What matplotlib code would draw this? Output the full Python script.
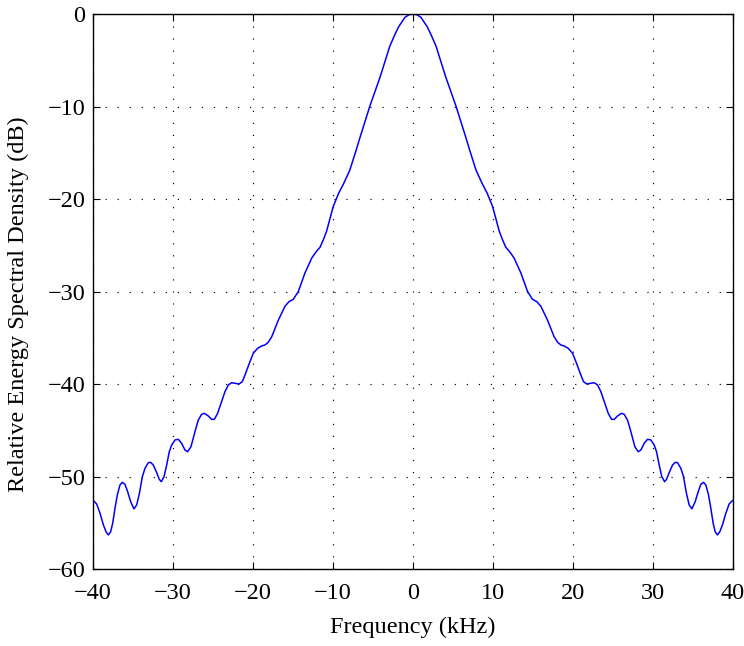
import matplotlib
matplotlib.use("Agg")
import matplotlib.pyplot as plt

# Frequency (kHz) and relative energy spectral density (dB)
freq_khz = [
    -39.96, -39.54, -39.12, -38.7, -38.37, -38.08, -37.79, -37.54, -37.25, -36.96,
    -36.63, -36.33, -36.0, -35.67, -35.29, -34.88, -34.54, -34.2, -33.83, -33.5,
    -33.08, -32.79, -32.46, -32.04, -31.71, -31.46, -31.12, -30.79, -30.46, -30.17,
    -29.75, -29.33, -28.92, -28.5, -28.17, -27.75, -27.25, -26.83, -26.42, -26.08,
    -25.58, -25.17, -24.83, -24.42, -24.0, -23.5, -23.08, -22.67, -22.17, -21.75,
    -21.33, -20.92, -20.38, -19.96, -19.42, -18.92, -18.5, -18.1, -17.66, -16.83,
    -16.0, -15.5, -14.96, -14.33, -13.5, -12.66, -12.1, -11.6, -11.2, -10.8,
    -9.96, -9.3, -8.7, -7.9, -7.2, -6.6, -5.4, -4.1, -2.9, -2.3,
    -1.8, -1.0, -0.5, 0.0,
    0.5, 1.0, 1.8, 2.3, 2.9, 4.1, 5.4, 6.6, 7.2, 7.9,
    8.7, 9.3, 9.96, 10.8, 11.2, 11.6, 12.1, 12.66, 13.5, 14.33,
    14.96, 15.5, 16.0, 16.83, 17.66, 18.1, 18.5, 18.92, 19.42, 19.96,
    20.38, 20.92, 21.33, 21.75, 22.17, 22.67, 23.08, 23.5, 24.0, 24.42,
    24.83, 25.17, 25.58, 26.08, 26.42, 26.83, 27.25, 27.75, 28.17, 28.5,
    28.92, 29.33, 29.75, 30.17, 30.46, 30.79, 31.12, 31.46, 31.71, 32.04,
    32.46, 32.79, 33.08, 33.5, 33.83, 34.2, 34.54, 34.88, 35.29, 35.67,
    36.0, 36.33, 36.63, 36.96, 37.25, 37.54, 37.79, 38.08, 38.37, 38.7,
    39.12, 39.54, 39.96,
]
esd_db = [
    -52.6, -52.97, -53.98, -55.24, -55.97, -56.32, -55.97, -55.06, -53.44, -52.0,
    -50.92, -50.63, -50.85, -51.64, -52.72, -53.5, -53.08, -51.82, -50.02, -49.12,
    -48.5, -48.47, -48.76, -49.58, -50.31, -50.56, -50.02, -48.76, -47.32, -46.6,
    -46.05, -45.98, -46.41, -47.14, -47.32, -46.78, -45.15, -43.89, -43.28, -43.17,
    -43.46, -43.82, -43.82, -43.17, -42.09, -40.83, -40.1, -39.86, -39.93, -40.0,
    -39.75, -38.85, -37.59, -36.68, -36.14, -35.89, -35.78, -35.5, -34.9, -33.1,
    -31.6, -31.1, -30.85, -30.0, -28.0, -26.4, -25.7, -25.2, -24.4, -23.5,
    -20.8, -19.4, -18.4, -16.9, -15.0, -13.3, -10.0, -6.8, -3.5, -2.3,
    -1.4, -0.36, -0.08, 0.0,
    -0.08, -0.36, -1.4, -2.3, -3.5, -6.8, -10.0, -13.3, -15.0, -16.9,
    -18.4, -19.4, -20.8, -23.5, -24.4, -25.2, -25.7, -26.4, -28.0, -30.0,
    -30.85, -31.1, -31.6, -33.1, -34.9, -35.5, -35.78, -35.89, -36.14, -36.68,
    -37.59, -38.85, -39.75, -40.0, -39.93, -39.86, -40.1, -40.83, -42.09, -43.17,
    -43.82, -43.82, -43.46, -43.17, -43.28, -43.89, -45.15, -46.78, -47.32, -47.14,
    -46.41, -45.98, -46.05, -46.6, -47.32, -48.76, -50.02, -50.56, -50.31, -49.58,
    -48.76, -48.47, -48.5, -49.12, -50.02, -51.82, -53.08, -53.5, -52.72, -51.64,
    -50.85, -50.63, -50.92, -52.0, -53.44, -55.06, -55.97, -56.32, -55.97, -55.24,
    -53.98, -52.97, -52.6,
]

x_ticks = [-40, -30, -20, -10, 0, 10, 20, 30, 40]
y_ticks = [-60, -50, -40, -30, -20, -10, 0]

plt.rcParams['font.family'] = ['Liberation Serif', 'DejaVu Serif']
plt.rcParams['font.size'] = 17.5

fig = plt.figure(figsize=(7.44, 6.46), dpi=100)
ax = fig.add_axes([0.125, 0.1192, 0.86, 0.8591])

ax.plot(freq_khz, esd_db, color=(0, 0, 1), linewidth=1.1)

ax.set_xlim(-40, 40)
ax.set_ylim(-60, 0)
ax.set_xticks(x_ticks)
ax.set_yticks(y_ticks)
ax.grid(True, color='black', linewidth=0.85, linestyle=(0, (1, 9.2)))
ax.tick_params(direction='in', top=True, right=True, length=5, width=0.8)
ax.tick_params(axis='x', pad=10)
ax.tick_params(axis='y', pad=5.5)
for s in ax.spines.values():
    s.set_linewidth(1.0)

ax.set_xlabel('Frequency (kHz)', va='center')
ax.xaxis.set_label_coords(0.5, -0.1045)
ax.set_ylabel('Relative Energy Spectral Density (dB)', va='center')
ax.yaxis.set_label_coords(-0.117, 0.4775)

fig.savefig('out.png', dpi=100)
